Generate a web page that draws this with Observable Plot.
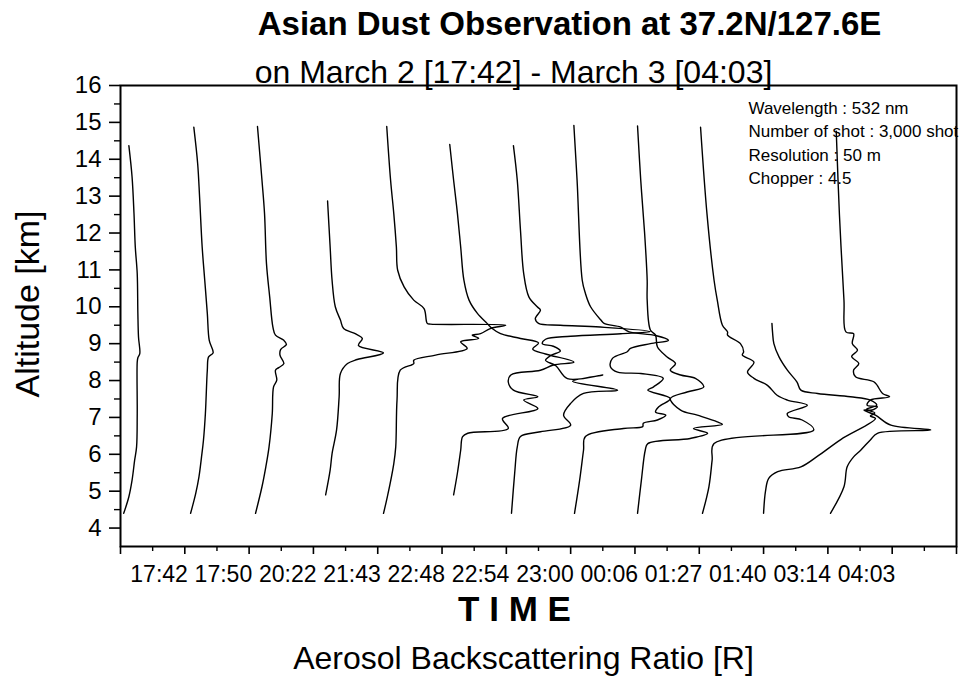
<!DOCTYPE html>
<html><head><meta charset="utf-8">
<script src="https://cdn.jsdelivr.net/npm/d3@7"></script>
<script src="https://cdn.jsdelivr.net/npm/@observablehq/plot@0.6"></script>
<style>body{margin:0;background:#fff;}</style>
</head><body><div id="chart"></div>
<script>
const times = ["17:42","17:50","20:22","21:43","22:48","22:54","23:00","00:06","01:27","01:40","03:14","04:03"];
const yTicks = [4,5,6,7,8,9,10,11,12,13,14,15,16];
const titleText = "Asian Dust Observation at 37.2N/127.6E";
const subtitleText = "on March 2 [17:42] - March 3 [04:03]";
const annotationLines = ["Wavelength : 532 nm","Number of shot : 3,000 shot","Resolution : 50 m","Chopper : 4.5"];

// each profile: [altitude km, horizontal position (offset ratio)]
const p1742 = [[14.37,0.13],[13.52,0.18],[12.52,0.21],[11.62,0.23],[10.9,0.26],[9.82,0.27],[9.18,0.28],[8.73,0.30],[8.62,0.27],[8.5,0.26],[7.1,0.26],[6.2,0.25],[5.84,0.22],[5.3,0.18],[4.85,0.13],[4.4,0.05]];
const p1750 = [[14.87,1.14],[13.88,1.20],[12.97,1.23],[11.62,1.27],[10.72,1.31],[9.82,1.35],[9.09,1.38],[8.75,1.44],[8.64,1.37],[8.28,1.35],[7.1,1.32],[6.38,1.29],[5.93,1.26],[5.39,1.22],[4.94,1.17],[4.4,1.09]];
const p2022 = [[14.89,2.13],[13.43,2.20],[12.52,2.24],[11.17,2.27],[10.27,2.32],[9.45,2.37],[9.23,2.41],[9.09,2.54],[8.98,2.58],[8.84,2.49],[8.69,2.48],[8.46,2.54],[8.35,2.46],[8.28,2.41],[8.01,2.43],[7.83,2.38],[7.1,2.36],[6.2,2.31],[5.66,2.26],[5.12,2.20],[4.4,2.10]];
const p2143 = [[12.87,3.22],[11.62,3.26],[10.72,3.29],[10.0,3.34],[9.64,3.42],[9.41,3.47],[9.27,3.65],[9.14,3.76],[8.95,3.70],[8.75,4.09],[8.57,3.68],[8.46,3.53],[8.19,3.42],[7.56,3.40],[6.66,3.36],[6.02,3.29],[5.57,3.26],[4.9,3.19]];
const p2248 = [[14.89,4.14],[13.43,4.20],[12.52,4.25],[11.62,4.29],[10.99,4.31],[10.54,4.41],[10.18,4.56],[9.95,4.72],[9.55,4.77],[9.53,4.82],[9.50,5.99],[9.41,5.75],[9.27,5.60],[9.23,5.47],[9.14,5.57],[9.05,5.29],[8.87,5.39],[8.69,4.90],[8.55,4.56],[8.46,4.56],[8.28,4.35],[7.47,4.30],[6.20,4.28],[5.75,4.25],[4.85,4.15],[4.4,4.09]];
const p2254 = [[14.40,5.12],[13.43,5.18],[12.52,5.24],[11.62,5.29],[10.72,5.34],[10.18,5.42],[9.82,5.55],[9.55,5.70],[9.41,5.78],[9.27,5.91],[9.14,6.22],[9.02,6.50],[8.85,6.41],[8.72,6.61],[8.50,7.05],[8.42,6.73],[8.28,6.53],[8.15,6.07],[7.96,6.03],[7.74,6.11],[7.56,6.49],[7.47,6.27],[7.24,6.49],[6.97,5.94],[6.70,6.03],[6.57,5.40],[6.48,5.32],[6.11,5.29],[5.5,5.24],[4.9,5.18]];
const p2300 = [[14.37,6.11],[13.43,6.17],[12.07,6.22],[10.90,6.27],[10.27,6.35],[10.0,6.48],[9.91,6.53],[9.68,6.45],[9.55,6.50],[9.50,6.84],[9.45,7.46],[9.33,8.24],[9.27,7.78],[9.20,7.00],[9.12,6.61],[9.0,6.56],[8.93,6.73],[8.8,6.84],[8.68,6.69],[8.55,6.61],[8.4,6.77],[8.05,6.95],[8.15,7.50],[7.98,7.03],[7.74,7.73],[7.65,7.20],[7.38,7.00],[7.06,6.89],[6.79,7.00],[6.61,6.53],[6.48,6.22],[6.2,6.17],[5.5,6.13],[4.4,6.08]];
const p0006 = [[14.92,7.05],[13.43,7.10],[10.72,7.18],[10.36,7.23],[10.0,7.31],[9.64,7.47],[9.55,7.52],[9.45,7.78],[9.32,7.91],[9.22,8.32],[9.09,8.52],[9.0,8.24],[8.87,7.93],[8.78,7.88],[8.60,7.65],[8.37,7.62],[8.23,7.73],[8.19,8.09],[8.06,8.44],[7.83,8.29],[7.74,8.20],[7.51,8.55],[7.29,8.37],[7.15,8.32],[7.06,8.48],[6.93,8.35],[6.84,8.13],[6.75,8.12],[6.70,7.82],[6.48,7.23],[6.11,7.20],[5.3,7.14],[4.4,7.06]];
const p0127 = [[14.9,8.04],[13.43,8.09],[12.0,8.15],[10.72,8.19],[10.18,8.19],[9.37,8.24],[9.23,8.32],[8.91,8.35],[8.64,8.50],[8.46,8.63],[8.28,8.55],[8.15,8.71],[8.06,8.94],[7.83,9.07],[7.69,8.81],[7.51,8.55],[7.20,8.71],[7.06,8.97],[6.88,9.28],[6.81,9.36],[6.70,8.91],[6.57,9.13],[6.43,8.86],[6.29,8.20],[6.11,8.16],[5.3,8.10],[4.4,8.04]];
const p0140 = [[14.87,9.02],[12.52,9.12],[10.72,9.23],[10.18,9.28],[9.5,9.36],[9.32,9.44],[9.23,9.44],[9.0,9.64],[8.78,9.69],[8.69,9.67],[8.5,9.85],[8.23,9.75],[8.06,9.85],[7.87,10.06],[7.6,10.21],[7.47,10.37],[7.33,10.68],[7.11,10.37],[7.02,10.39],[6.93,10.60],[6.66,10.78],[6.29,9.23],[5.84,9.20],[5.12,9.15],[4.4,9.05]];
const p0314 = [[9.55,10.13],[9.3,10.14],[9.0,10.16],[8.64,10.24],[8.28,10.37],[7.96,10.52],[7.74,10.58],[7.65,10.84],[7.56,11.35],[7.47,11.66],[7.33,11.76],[7.22,11.60],[7.12,11.73],[7.04,11.66],[6.97,11.74],[6.40,11.20],[5.95,10.84],[5.66,10.58],[5.53,10.22],[5.35,10.08],[5.0,10.03],[4.4,10.00]];
const p0403 = [[14.76,11.13],[12.48,11.18],[10.18,11.25],[9.32,11.28],[9.27,11.40],[9.0,11.38],[8.82,11.46],[8.65,11.37],[8.46,11.48],[8.28,11.40],[8.10,11.43],[7.96,11.72],[7.65,11.85],[7.56,11.96],[7.47,11.66],[7.33,11.61],[7.29,11.77],[7.2,11.69],[7.2,11.56],[7.06,11.74],[6.79,11.98],[6.66,12.60],[6.57,11.77],[6.39,11.66],[6.11,11.51],[5.93,11.40],[5.66,11.30],[5.12,11.25],[4.4,11.04]];

const profiles = [p1742,p1750,p2022,p2143,p2248,p2254,p2300,p0006,p0127,p0140,p0314,p0403];
const rows = profiles.flatMap((pts, i) => pts.map(([alt, r]) => ({time: times[i], alt, r})));

const font = "Liberation Sans, Arial, Helvetica, sans-serif";
const majorX = d3.range(0, 14);
const minorX = d3.range(0.5, 13, 1);
const minorY = d3.range(4.5, 16, 1);

const chart = Plot.plot({
  width: 960,
  height: 691,
  marginLeft: 120,
  marginRight: 4,
  marginTop: 85,
  marginBottom: 145,
  style: {fontFamily: font, color: "black", background: "white", overflow: "visible"},
  x: {domain: [0, 13], axis: null},
  y: {domain: [3.5, 16], axis: null},
  marks: [
    Plot.axisY(yTicks, {tickSize: 11, tickPadding: 8, fontSize: 24, strokeWidth: 1.6, label: null}),
    Plot.axisY(minorY, {tickSize: 6, tickFormat: () => "", strokeWidth: 1.4, label: null}),
    Plot.axisX(majorX, {tickSize: 8, tickFormat: () => "", strokeWidth: 1.6, label: null}),
    Plot.axisX(minorX, {tickSize: 5, tickFormat: () => "", strokeWidth: 1.4, label: null}),
    Plot.line(rows, {x: "r", y: "alt", z: "time", curve: "catmull-rom", stroke: "black", strokeWidth: 1.4}),
    Plot.frame({stroke: "black", strokeWidth: 2}),
    Plot.text(times, {x: (d, i) => i + 0.6, text: d => d, frameAnchor: "bottom", lineAnchor: "bottom", dy: 35, fontSize: 23}),
    Plot.text(["T I M E"], {frameAnchor: "bottom", lineAnchor: "bottom", dx: -24, dy: 74, fontSize: 35, fontWeight: "bold"}),
    Plot.text(["Aerosol Backscattering Ratio [R]"], {frameAnchor: "bottom", lineAnchor: "bottom", dx: -15, dy: 122, fontSize: 32}),
    Plot.text([titleText], {frameAnchor: "top", lineAnchor: "bottom", dx: 31, dy: -51, fontSize: 33, fontWeight: "bold"}),
    Plot.text([subtitleText], {frameAnchor: "top", lineAnchor: "bottom", dx: -25, dy: -3, fontSize: 32}),
    Plot.text(["Altitude [km]"], {frameAnchor: "left", textAnchor: "middle", rotate: -90, dx: -92, dy: -12, fontSize: 34}),
    Plot.text([annotationLines.join("\n")], {frameAnchor: "top-left", textAnchor: "start", lineAnchor: "top", dx: 628, dy: 12, fontSize: 17, lineHeight: 1.37})
  ]
});
document.getElementById("chart").appendChild(chart);
</script>
</body></html>
